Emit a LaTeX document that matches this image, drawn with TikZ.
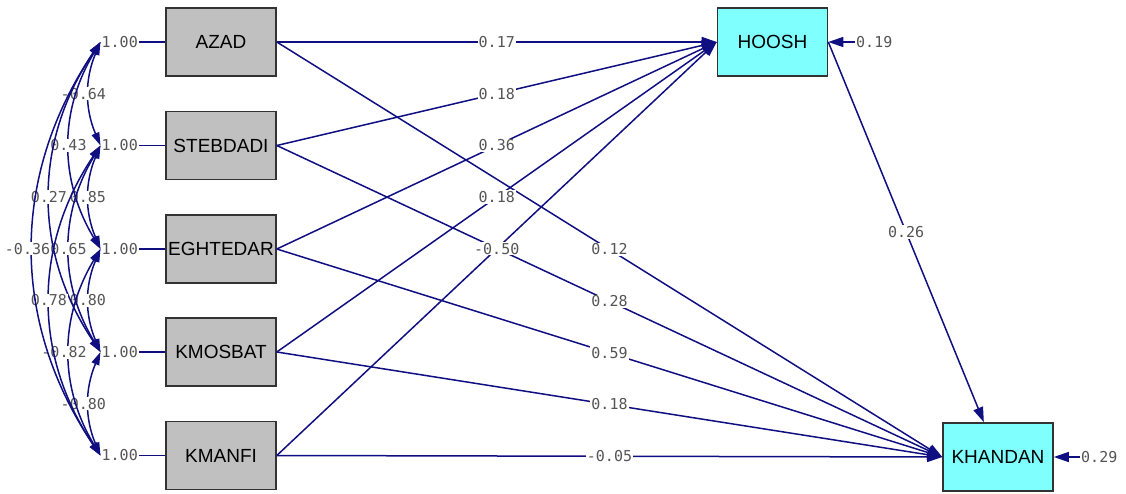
\documentclass[tikz,border=0pt]{standalone}
\usepackage{fontspec}
\setmainfont{Liberation Sans}
\newfontfamily\coeffont{DejaVu Sans Mono}
\usepackage{tikz}
\usetikzlibrary{positioning,arrows.meta}
\definecolor{pathblue}{RGB}{15,15,130}
\definecolor{coefgray}{RGB}{85,85,85}
\definecolor{obsgray}{RGB}{192,192,192}
\definecolor{latcyan}{RGB}{128,255,255}

\begin{document}
\begin{tikzpicture}[x=1pt,y=-1pt,
    obs/.style={draw=black!80,line width=1.6pt,fill=obsgray,minimum width=110pt,minimum height=68pt,inner sep=0pt,font=\fontsize{19}{19}\selectfont},
    endo/.style={obs,fill=latcyan},
    coeff/.style={text=coefgray,font=\coeffont\fontsize{15}{15}\selectfont,inner sep=1pt},
    lab/.style={coeff,fill=white},
    covlab/.style={lab,anchor=east,xshift=19pt},
    link/.style={draw=pathblue,line width=1.5pt},
    arr/.style={link,-{Triangle[length=15pt,width=10pt]}},
    cov/.style={link,{Triangle[length=13pt,width=8pt]}-{Triangle[length=13pt,width=8pt]}}]
    \useasboundingbox (0,0) rectangle (1126,494);

    % observed variables
    \node[obs] (AZAD) at (221,42) {AZAD};
    \node[obs] (STEBDADI) at (221,145.5) {STEBDADI};
    \node[obs] (EGHTEDAR) at (221,249) {EGHTEDAR};
    \node[obs] (KMOSBAT) at (221,352) {KMOSBAT};
    \node[obs] (KMANFI) at (221,455.5) {KMANFI};

    \node[endo] (HOOSH) at (772.5,42) {HOOSH};
    \node[endo] (KHANDAN) at (998,457) {KHANDAN};

    % variances
    \node[coeff,anchor=east] (v1) at (139,42) {1.00};
    \node[coeff,anchor=east] (v2) at (139,145.5) {1.00};
    \node[coeff,anchor=east] (v3) at (139,249) {1.00};
    \node[coeff,anchor=east] (v4) at (139,352) {1.00};
    \node[coeff,anchor=east] (v5) at (139,455.5) {1.00};
    \draw[link] (v1) -- (AZAD);
    \draw[link] (v2) -- (STEBDADI);
    \draw[link] (v3) -- (EGHTEDAR);
    \draw[link] (v4) -- (KMOSBAT);
    \draw[link] (v5) -- (KMANFI);

    % covariances
    \foreach \i/\j/\b/\val in {1/2/23/-0.64,2/3/23/0.85,3/4/23/0.80,4/5/23/-0.80,
                              1/3/31/0.43,2/4/31/0.65,3/5/31/-0.82,1/4/34/0.27,2/5/34/0.78,1/5/34/-0.36}
        \draw[cov] (v\i.west) to[bend right=\b] node[covlab] {\val} (v\j.west);

    % paths
    \foreach \src/\a/\b in {AZAD/0.17/0.12,STEBDADI/0.18/0.28,EGHTEDAR/0.36/0.59,KMOSBAT/0.18/0.18,KMANFI/-0.50/-0.05}{
        \draw[arr] (\src.east) -- node[lab] {\a} (HOOSH.west);
        \draw[arr] (\src.east) -- node[lab] {\b} (KHANDAN.west);
    }
    \draw[arr] (HOOSH.east) -- node[lab] {0.26} (KHANDAN);

    % errors
    \node[coeff,anchor=west] (e1) at (855,42) {0.19};
    \node[coeff,anchor=west] (e2) at (1080,457) {0.29};
    \draw[arr] (e1) -- (HOOSH);
    \draw[arr] (e2) -- (KHANDAN);
\end{tikzpicture}
\end{document}
